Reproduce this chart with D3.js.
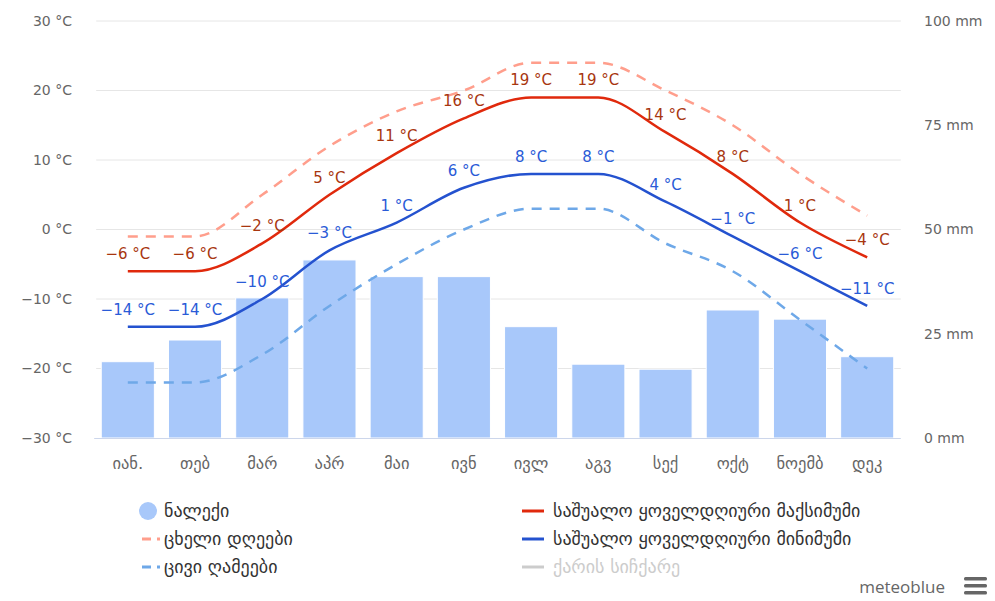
<!DOCTYPE html>
<html><head><meta charset="utf-8">
<script src="https://cdn.jsdelivr.net/npm/d3@7"></script>
<style>
html,body{margin:0;padding:0;background:#fff;}
svg{display:block;font-family:"DejaVu Sans","Lucida Grande",sans-serif;}
</style></head>
<body>
<svg id="c" width="995" height="601"></svg>
<script>
const months = ["იან.","თებ","მარ","აპრ","მაი","ივნ","ივლ","აგვ","სექ","ოქტ","ნოემბ","დეკ"];
const precipitation = [18.3, 23.5, 33.6, 42.7, 38.7, 38.7, 26.7, 17.7, 16.5, 30.7, 28.5, 19.5];
const tempMax = [-6, -6, -2, 5, 11, 16, 19, 19, 14, 8, 1, -4];
const tempMin = [-14, -14, -10, -3, 1, 6, 8, 8, 4, -1, -6, -11];
const hotDays = [-1, -1, 5, 12, 17, 20, 24, 24, 20, 15, 8, 2];
const coldNights = [-22, -22, -18, -11, -5, 0, 3, 3, -2, -6, -13, -20];
const tempTicks = [-30, -20, -10, 0, 10, 20, 30];
const precipTicks = [0, 25, 50, 75, 100];
const legendItems = [
  {label:"ნალექი", type:"circle", color:"#a8c8fa", textColor:"#333"},
  {label:"ცხელი დღეები", type:"dash", color:"#ff9e8c", textColor:"#333"},
  {label:"ცივი ღამეები", type:"dash", color:"#6ea8e8", textColor:"#333"},
  {label:"საშუალო ყოველდღიური მაქსიმუმი", type:"line", color:"#e0290c", textColor:"#333"},
  {label:"საშუალო ყოველდღიური მინიმუმი", type:"line", color:"#2452cf", textColor:"#333"},
  {label:"ქარის სიჩქარე", type:"line", color:"#cccccc", textColor:"#cccccc"}
];

const svg = d3.select("#c");
const L = 94.2, R = 900.8, T = 21, B = 438;
const x = d3.scaleBand().domain(months).range([L, R]).paddingInner(0.21).paddingOuter(0.105);
const xc = d => x(d) + x.bandwidth()/2;
const yT = d3.scaleLinear().domain([-30, 30]).range([B, T]);
const yP = d3.scaleLinear().domain([0, 100]).range([B, T]);

// gridlines
svg.append("g").selectAll("line").data(tempTicks.filter(t => t !== -30)).join("line")
  .attr("x1", L+2).attr("x2", R).attr("y1", d => yT(d)).attr("y2", d => yT(d))
  .attr("stroke", "#e6e6e6").attr("stroke-width", 1);

// left axis
const yAxisL = d3.axisLeft(yT).tickValues(tempTicks).tickSize(0).tickPadding(0)
  .tickFormat(d => (d < 0 ? "−" + Math.abs(d) : d) + " °C");
const gL = svg.append("g").attr("transform", `translate(72,0)`).call(yAxisL);
gL.select(".domain").remove();
gL.selectAll("text").attr("fill", "#666").attr("font-size", 14).attr("font-family", "DejaVu Sans");

// right axis
const yAxisR = d3.axisRight(yP).tickValues(precipTicks).tickSize(0).tickPadding(0)
  .tickFormat(d => d + " mm");
const gR = svg.append("g").attr("transform", `translate(924,0)`).call(yAxisR);
gR.select(".domain").remove();
gR.selectAll("text").attr("fill", "#666").attr("font-size", 14).attr("font-family", "DejaVu Sans");

// bars
svg.append("g").selectAll("rect").data(precipitation).join("rect")
  .attr("x", (d,i) => x(months[i])).attr("width", x.bandwidth())
  .attr("y", d => yP(d)).attr("height", d => yP(0) - yP(d))
  .attr("fill", "#a8c8fa").attr("stroke", "#ffffff").attr("stroke-width", 1);

// bottom axis
const xAxis = d3.axisBottom(x).tickSize(0).tickPadding(0);
const gX = svg.append("g").attr("transform", `translate(0,${B})`).call(xAxis);
gX.select(".domain").attr("stroke", "#ccd6eb").attr("d", `M${L},0.5H${R}`);
gX.selectAll("text").attr("fill", "#666").attr("font-size", 16.5).attr("dy", "1.85em").attr("font-family", "DejaVu Sans");

const line = d3.line().x((d,i) => xc(months[i])).y(d => yT(d)).curve(d3.curveMonotoneX);

svg.append("path").datum(coldNights).attr("d", line).attr("fill", "none")
  .attr("stroke", "#6ea8e8").attr("stroke-width", 2.5).attr("stroke-dasharray", "10,8");
svg.append("path").datum(hotDays).attr("d", line).attr("fill", "none")
  .attr("stroke", "#ff9e8c").attr("stroke-width", 2.5).attr("stroke-dasharray", "10,8");
svg.append("path").datum(tempMin).attr("d", line).attr("fill", "none")
  .attr("stroke", "#2452cf").attr("stroke-width", 2.5);
svg.append("path").datum(tempMax).attr("d", line).attr("fill", "none")
  .attr("stroke", "#e0290c").attr("stroke-width", 2.5);

const fmt = d => (d < 0 ? "−" + Math.abs(d) : d) + " °C";
svg.append("g").selectAll("text").data(tempMax).join("text")
  .attr("x", (d,i) => xc(months[i])).attr("y", d => yT(d) - 12)
  .attr("text-anchor", "middle").attr("font-size", 15).attr("fill", "#a8360f")
  .text(fmt);
svg.append("g").selectAll("text").data(tempMin).join("text")
  .attr("x", (d,i) => xc(months[i])).attr("y", d => yT(d) - 12)
  .attr("text-anchor", "middle").attr("font-size", 15).attr("fill", "#2a5bd7")
  .text(fmt);

// legend
const lg = svg.append("g");
legendItems.forEach((it, i) => {
  const col = Math.floor(i / 3), row = i % 3;
  const ix = col === 0 ? 139 : 522;
  const iy = 511 + row * 28;
  const g = lg.append("g");
  if (it.type === "circle") {
    g.append("circle").attr("cx", ix + 9).attr("cy", iy).attr("r", 9).attr("fill", it.color);
  } else if (it.type === "dash") {
    g.append("line").attr("x1", ix + 3).attr("x2", ix + 21).attr("y1", iy).attr("y2", iy)
      .attr("stroke", it.color).attr("stroke-width", 3).attr("stroke-dasharray", "9,6");
  } else {
    g.append("line").attr("x1", ix).attr("x2", ix + 22).attr("y1", iy).attr("y2", iy)
      .attr("stroke", it.color).attr("stroke-width", 3);
  }
  g.append("text").attr("x", col === 0 ? ix + 25 : ix + 31).attr("y", iy).attr("dy", "0.35em")
    .attr("font-size", 18).attr("fill", it.textColor).text(it.label);
});

// credits
svg.append("text").attr("x", 945).attr("y", 593).attr("text-anchor", "end")
  .attr("font-size", 17).attr("fill", "#666").attr("font-family", "Open Sans, DejaVu Sans").text("meteoblue");
const hb = svg.append("g");
[0,1,2].forEach(k => hb.append("rect").attr("x", 964).attr("y", 577 + k*7).attr("width", 23).attr("height", 3.5)
  .attr("rx", 1.5).attr("fill", "#666"));
</script>
</body></html>
